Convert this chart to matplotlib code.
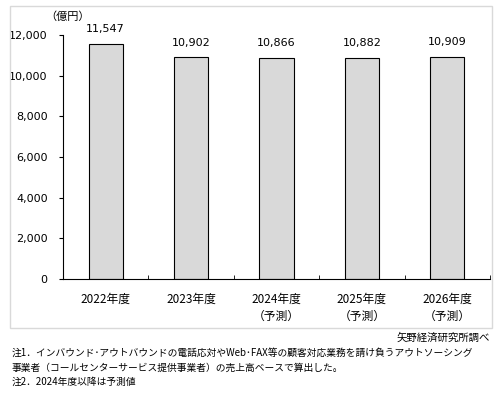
import matplotlib.pyplot as plt
import matplotlib.patches as patches
import numpy as np

plt.rcParams['font.family'] = ['DejaVu Sans', 'Noto Sans CJK JP']

years = ['2022年度', '2023年度', '2024年度\n（予測）', '2025年度\n（予測）', '2026年度\n（予測）']
sales = [11547, 10902, 10866, 10882, 10909]
yticks = [0, 2000, 4000, 6000, 8000, 10000, 12000]

fig = plt.figure(figsize=(5, 3.95), dpi=100)

# outer frame round the chart
fig.patches.append(patches.Rectangle((10/500, 1-328/395), 482/500, 322/395,
                                     transform=fig.transFigure, fill=False,
                                     edgecolor='#d9d9d9', linewidth=1))

ax = fig.add_axes([0.126, 1-279/395, 0.854, (279-35)/395])
x = np.arange(len(years))
ax.bar(x, sales, width=0.4, color='#d9d9d9', edgecolor='black', linewidth=0.8)
for xi, v in zip(x, sales):
    ax.annotate(f'{v:,}', (xi, v), xytext=(0, 7), textcoords='offset points',
                ha='center', va='bottom', fontsize=8)

ax.set_xlim(-0.5, len(years) - 0.5)
ax.set_ylim(0, 12000)
ax.set_yticks(yticks)
ax.set_yticklabels([f'{t:,}' for t in yticks], fontsize=8)
ax.tick_params(axis='y', length=3, pad=8)
ax.set_xticks(x)
ax.set_xticklabels(years, fontsize=8.5, family=['Noto Sans CJK JP'], linespacing=1.35)
ax.tick_params(axis='x', length=0, pad=10)
ax.set_xticks(np.arange(-0.5, len(years)), minor=True)
ax.tick_params(axis='x', which='minor', direction='in', length=3)
for s in ['top', 'right']:
    ax.spines[s].set_visible(False)
ax.spines['left'].set_linewidth(0.8)
ax.spines['bottom'].set_linewidth(0.8)

fig.text(45/500, 1-17/395, '（億円）', fontsize=8, family=['Noto Sans CJK JP'], va='center')
fig.text(490/500, 1-338/395, '矢野経済研究所調べ', fontsize=7.5, family=['Noto Sans CJK JP'],
         ha='right', va='center')
notes = ['注1．インバウンド･アウトバウンドの電話応対やWeb･FAX等の顧客対応業務を請け負うアウトソーシング',
         '事業者（コールセンターサービス提供事業者）の売上高ベースで算出した。',
         '注2．2024年度以降は予測値']
for i, n in enumerate(notes):
    fig.text(12/500, 1-(353+14.5*i)/395, n, fontsize=7,
             family=['Noto Sans CJK JP', 'DejaVu Sans'], va='center')

fig.savefig('out.png', dpi=100)
